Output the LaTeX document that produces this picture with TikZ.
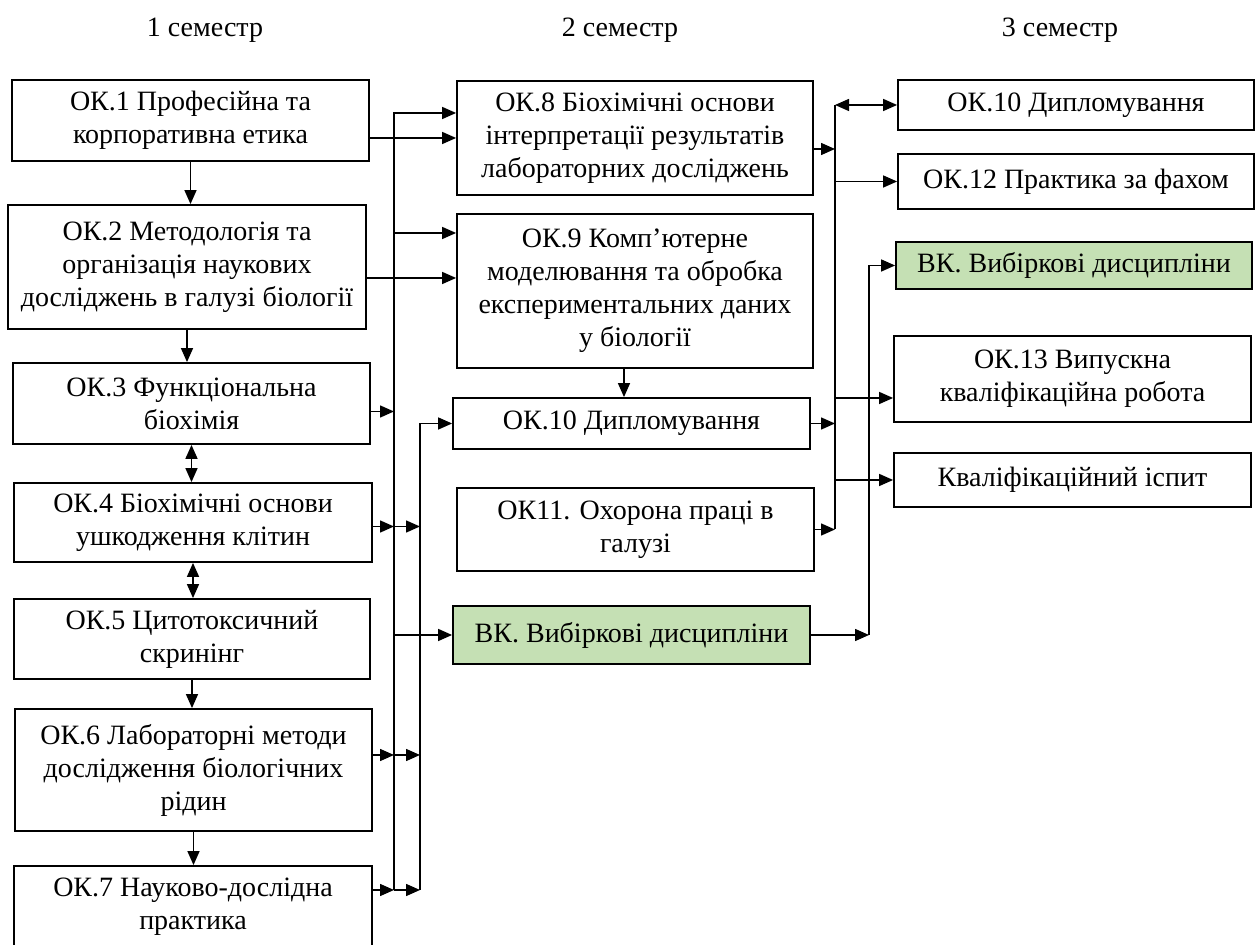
\documentclass[tikz,border=0pt]{standalone}
\usepackage{fontspec}
\setmainfont{Liberation Serif}
\usetikzlibrary{arrows.meta}
\definecolor{vkgreen}{HTML}{C5E0B4}
\tikzset{
  >={Triangle[length=7pt,width=6pt]},
  kurs/.style={draw, line width=0.9pt, align=center, inner sep=1pt, font=\fontsize{14}{16.5}\selectfont},
  vybir/.style={kurs, fill=vkgreen},
  zv/.style={line width=0.75pt}
}
\begin{document}
\begin{tikzpicture}[x=0.5pt,y=-0.5pt]
  \useasboundingbox (0,0) rectangle (1255,945);
  \node[font=\fontsize{14}{16.5}\selectfont] (sem1) at (205,30) {1 семестр};
  \node[font=\fontsize{14}{16.5}\selectfont] (sem2) at (620,30) {2 семестр};
  \node[font=\fontsize{14}{16.5}\selectfont] (sem3) at (1060,30) {3 семестр};
  % 1 семестр
  \node[kurs, minimum width=178.5pt, minimum height=40.5pt] (ok1) at (190.5,120.5) {ОК.1 Професійна та\\корпоративна етика};
  \node[kurs, minimum width=179pt, minimum height=62pt] (ok2) at (187,267) {ОК.2 Методологія та\\організація наукових\\досліджень в галузі біології};
  \node[kurs, minimum width=178.5pt, minimum height=40.5pt] (ok3) at (191.5,403.5) {ОК.3 Функціональна\\біохімія};
  \node[kurs, minimum width=179pt, minimum height=39.5pt] (ok4) at (193,522.5) {ОК.4 Біохімічні основи\\ушкодження клітин};
  \node[kurs, minimum width=178pt, minimum height=40pt] (ok5) at (192,639) {ОК.5 Цитотоксичний\\скринінг};
  \node[kurs, minimum width=178.5pt, minimum height=61pt] (ok6) at (193.5,770) {ОК.6 Лабораторні методи\\дослідження біологічних\\рідин};
  \node[kurs, minimum width=179pt, minimum height=40.5pt] (ok7) at (193,906.5) {ОК.7 Науково-дослідна\\практика};
  % 2 семестр
  \node[kurs, minimum width=178pt, minimum height=57pt] (ok8) at (635,138) {ОК.8 Біохімічні основи\\інтерпретації результатів\\лабораторних досліджень};
  \node[kurs, minimum width=178pt, minimum height=77pt] (ok9) at (635,291) {ОК.9 Комп’ютерне\\моделювання та обробка\\експериментальних даних\\у біології};
  \node[kurs, minimum width=178.5pt, minimum height=25.5pt] (ok10b) at (631.5,423.5) {ОК.10 Дипломування};
  \node[kurs, minimum width=178.5pt, minimum height=41.5pt] (ok11) at (635.5,529.5) {ОК11. Охорона праці в\\галузі};
  \node[vybir, minimum width=178.5pt, minimum height=29pt] (vk2) at (631.5,635) {ВК. Вибіркові дисципліни};
  % 3 семестр
  \node[kurs, minimum width=178pt, minimum height=25pt] (ok10c) at (1076,105) {ОК.10 Дипломування};
  \node[kurs, minimum width=178pt, minimum height=27.5pt] (ok12) at (1076,181.5) {ОК.12 Практика за фахом};
  \node[vybir, minimum width=178pt, minimum height=23.5pt] (vk3) at (1074,265.5) {ВК. Вибіркові дисципліни};
  \node[kurs, minimum width=178.5pt, minimum height=43pt] (ok13) at (1072.5,379) {ОК.13 Випускна\\кваліфікаційна робота};
  \node[kurs, minimum width=178.5pt, minimum height=27pt] (ispyt) at (1072.5,480) {Кваліфікаційний іспит};
  % шини
  \coordinate (b1) at (394,0);
  \coordinate (b2) at (420,0);
  \coordinate (b3) at (835,0);
  \coordinate (b4) at (869,0);
  \coordinate (t8) at ([yshift=12.5pt]ok8.west);
  \coordinate (t9a) at ([yshift=29pt]ok9.west);
  \coordinate (t9b) at ([yshift=6.5pt]ok9.west);
  \coordinate (s3) at ([yshift=-4pt]ok3.east);
  \coordinate (s4) at ([yshift=-2pt]ok4.east);
  \coordinate (s6) at ([yshift=7.5pt]ok6.east);
  \coordinate (s7) at ([yshift=8.25pt]ok7.east);
  \coordinate (u8) at ([yshift=-5.5pt]ok8.east);
  \coordinate (v13) at ([yshift=-9.5pt]ok13.west);
  \foreach \a/\b in {ok1/ok2, ok2/ok3, ok5/ok6, ok6/ok7}
    \draw[zv, ->] (\a.south) -- (\a.south |- \b.north);
  \foreach \a/\b in {ok3/ok4, ok4/ok5}
    \draw[zv, <->] (\a.south) -- (\a.south |- \b.north);
  \draw[zv, ->] ([xshift=-5.5pt]ok9.south) -- ([xshift=-5.5pt]ok9.south |- ok10b.north);
  \draw[zv, ->] (ok8.west -| ok1.east) -- (ok8.west);
  \draw[zv, ->] (t9b -| ok2.east) -- (t9b);
  \draw[zv, ->] (s7 -| b1) -- (t8 -| b1) -- (t8);
  \draw[zv, ->] (s7 -| b2) -- (ok10b.west -| b2) -- (ok10b.west);
  \draw[zv, ->] (t9a -| b1) -- (t9a);
  \draw[zv, ->] (vk2.west -| b1) -- (vk2.west);
  \draw[zv, ->] (s3) -- (s3 -| b1);
  \foreach \s in {s4, s6, s7}
  {\draw[zv, ->] (\s) -- (\s -| b1);
   \draw[zv, ->] (\s -| b1) -- (\s -| b2);
  };
  \draw[zv] (ok11.east -| b3) -- (ok10c.west -| b3);
  \draw[zv, <->] (ok10c.west -| b3) -- (ok10c.west);
  \foreach \s in {u8, ok10b.east, ok11.east}
    \draw[zv, ->] (\s) -- (\s -| b3);
  \foreach \s in {ok12.west, v13, ispyt.west}
    \draw[zv, ->] (\s -| b3) -- (\s);
  \draw[zv, ->] (vk2.east) -- (vk2.east -| b4);
  \draw[zv, ->] (vk2.east -| b4) -- (vk3.west -| b4) -- (vk3.west);
\end{tikzpicture}
\end{document}
